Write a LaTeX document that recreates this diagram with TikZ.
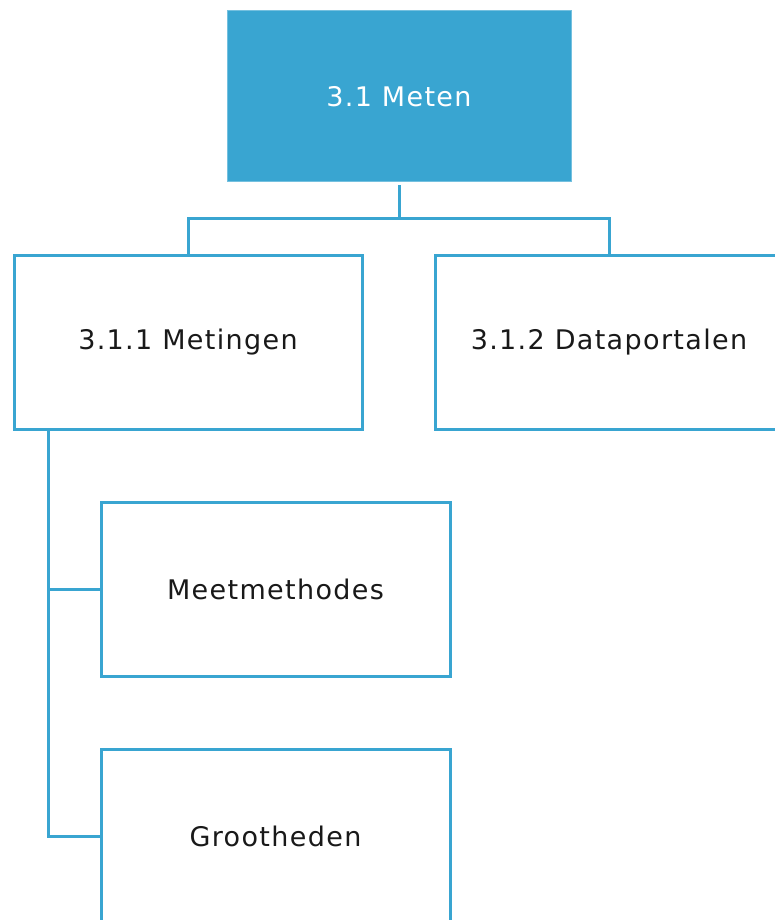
\documentclass[tikz,border=0pt]{standalone}
\usepackage{fontspec}
\setmainfont{DejaVu Sans}[LetterSpace=5]
\usetikzlibrary{calc}
\definecolor{blu}{RGB}{57,165,209}
\definecolor{ink}{RGB}{25,25,25}
\begin{document}
\begin{tikzpicture}[x=1pt,y=-1pt,
  box/.style={draw=blu, line width=3pt, fill=white, minimum width=348pt, minimum height=174pt, inner sep=0pt, text=ink, font=\fontsize{27}{32}\selectfont},
  topbox/.style={fill=blu, draw=blu!70!white, line width=1pt, minimum width=344pt, minimum height=171pt, inner sep=0pt, text=white, font=\fontsize{27}{32}\selectfont},
  conn/.style={draw=blu, line width=3pt}]
\path[use as bounding box, clip] (0,0) rectangle (775,920);
\node[topbox] (top) at (399,96.5) {3.1 Meten};
\node[box] (b1) at (188,342) {3.1.1 Metingen};
\node[box] (b2) at (609,342) {3.1.2 Dataportalen};
\node[box, minimum width=349pt] (m) at (275.5,589) {Meetmethodes};
\node[box, minimum width=349pt] (g) at (275.5,836) {Grootheden};
\coordinate (bus) at (399,218);
\coordinate (lv) at ($(b1.south west)+(36,0)$);
\draw[conn] ($(top.south)+(0,3)$) -- (bus);
\draw[conn] (bus) -| (b1.north);
\draw[conn] (bus) -| (b2.north);
\draw[conn] (lv) |- (m.west);
\draw[conn] (lv) |- (g.west);
\end{tikzpicture}
\end{document}
